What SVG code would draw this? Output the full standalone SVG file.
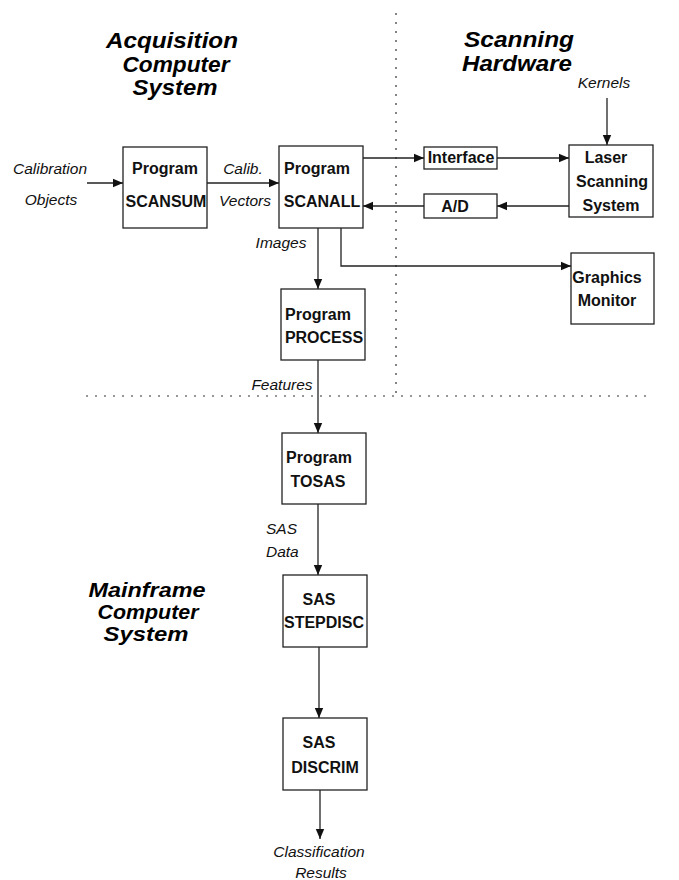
<svg xmlns="http://www.w3.org/2000/svg" width="679" height="880" viewBox="0 0 679 880">
<style>
  .box { fill: #fff; stroke: #222; stroke-width: 1.3; }
  .bt { font-family: "Liberation Sans", Arial, sans-serif; font-weight: bold; font-size: 16px; fill: #111; text-anchor: middle; }
  .lbl { font-family: "Liberation Sans", Arial, sans-serif; font-style: italic; font-size: 15.5px; fill: #111; text-anchor: middle; }
  .title { font-family: "Liberation Sans", Arial, sans-serif; font-style: italic; font-weight: bold; font-size: 22px; fill: #000; text-anchor: middle; }
  .mt { font-size: 21px; }
  .ln { fill: none; stroke: #222; stroke-width: 1.3; }
  .dot { fill: none; stroke: #333; stroke-width: 1.2; stroke-dasharray: 2 7; }
</style>
<defs>
  <marker id="ah" viewBox="0 0 10 10" refX="10" refY="5" markerWidth="10" markerHeight="10" markerUnits="userSpaceOnUse" orient="auto">
    <path d="M0,0.8 L10,5 L0,9.2 Z" fill="#111"/>
  </marker>
</defs>
<rect width="679" height="880" fill="#fff"/>

<g id="dividers">
  <line class="dot" x1="396" y1="13" x2="396" y2="395"/>
  <line class="dot" x1="86" y1="396" x2="646" y2="396"/>
</g>

<g id="titles">
  <text class="title" x="172" y="48" textLength="132" lengthAdjust="spacingAndGlyphs">Acquisition</text>
  <text class="title" x="176" y="72" textLength="107" lengthAdjust="spacingAndGlyphs">Computer</text>
  <text class="title" x="175" y="95" textLength="85" lengthAdjust="spacingAndGlyphs">System</text>
  <text class="title" x="519" y="47" textLength="110" lengthAdjust="spacingAndGlyphs">Scanning</text>
  <text class="title" x="517" y="71" textLength="110" lengthAdjust="spacingAndGlyphs">Hardware</text>
  <text class="title mt" x="147" y="597" textLength="117" lengthAdjust="spacingAndGlyphs">Mainframe</text>
  <text class="title mt" x="148" y="619" textLength="101" lengthAdjust="spacingAndGlyphs">Computer</text>
  <text class="title mt" x="146" y="641" textLength="85" lengthAdjust="spacingAndGlyphs">System</text>
</g>

<g id="connectors">
  <line class="ln" x1="87" y1="183" x2="123" y2="183" marker-end="url(#ah)"/>
  <line class="ln" x1="207" y1="183" x2="279" y2="183" marker-end="url(#ah)"/>
  <line class="ln" x1="363" y1="158" x2="424" y2="158" marker-end="url(#ah)"/>
  <line class="ln" x1="497" y1="158" x2="569" y2="158" marker-end="url(#ah)"/>
  <line class="ln" x1="569" y1="206" x2="497" y2="206" marker-end="url(#ah)"/>
  <line class="ln" x1="424" y1="206" x2="363" y2="206" marker-end="url(#ah)"/>
  <line class="ln" x1="607" y1="98" x2="607" y2="145" marker-end="url(#ah)"/>
  <line class="ln" x1="318" y1="228" x2="318" y2="289" marker-end="url(#ah)"/>
  <polyline class="ln" points="341,228 341,266 571,266" marker-end="url(#ah)"/>
  <line class="ln" x1="318" y1="360" x2="318" y2="433" marker-end="url(#ah)"/>
  <line class="ln" x1="318" y1="504" x2="318" y2="575" marker-end="url(#ah)"/>
  <line class="ln" x1="319" y1="647" x2="319" y2="718" marker-end="url(#ah)"/>
  <line class="ln" x1="320" y1="790" x2="320" y2="839" marker-end="url(#ah)"/>
</g>

<g id="labels">
  <text class="lbl" x="50" y="174">Calibration</text>
  <text class="lbl" x="51" y="205">Objects</text>
  <text class="lbl" x="243" y="174">Calib.</text>
  <text class="lbl" x="245" y="206">Vectors</text>
  <text class="lbl" x="604" y="88">Kernels</text>
  <text class="lbl" x="281" y="248">Images</text>
  <text class="lbl" x="282" y="390">Features</text>
  <text class="lbl" x="266" y="534" style="text-anchor:start">SAS</text>
  <text class="lbl" x="266" y="557" style="text-anchor:start">Data</text>
  <text class="lbl" x="319" y="857">Classification</text>
  <text class="lbl" x="321" y="878">Results</text>
</g>

<g id="scansum">
  <rect class="box" x="123" y="147" width="84" height="81"/>
  <text class="bt" x="165" y="174">Program</text>
  <text class="bt" x="166" y="207">SCANSUM</text>
</g>
<g id="scanall">
  <rect class="box" x="279" y="146" width="84" height="82"/>
  <text class="bt" x="317" y="174">Program</text>
  <text class="bt" x="322" y="207">SCANALL</text>
</g>
<g id="interface">
  <rect class="box" x="424" y="147" width="73" height="22"/>
  <text class="bt" x="461" y="163">Interface</text>
</g>
<g id="ad">
  <rect class="box" x="424" y="194" width="73" height="24"/>
  <text class="bt" x="455" y="212">A/D</text>
</g>
<g id="laser">
  <rect class="box" x="569" y="145" width="84" height="72"/>
  <text class="bt" x="606" y="163">Laser</text>
  <text class="bt" x="612" y="187">Scanning</text>
  <text class="bt" x="611" y="211">System</text>
</g>
<g id="graphics">
  <rect class="box" x="571" y="253" width="83" height="71"/>
  <text class="bt" x="607" y="283">Graphics</text>
  <text class="bt" x="607" y="306">Monitor</text>
</g>
<g id="process">
  <rect class="box" x="281" y="289" width="84" height="71"/>
  <text class="bt" x="318" y="320">Program</text>
  <text class="bt" x="324" y="343">PROCESS</text>
</g>
<g id="tosas">
  <rect class="box" x="282" y="433" width="84" height="71"/>
  <text class="bt" x="319" y="463">Program</text>
  <text class="bt" x="318" y="487">TOSAS</text>
</g>
<g id="stepdisc">
  <rect class="box" x="283" y="575" width="84" height="72"/>
  <text class="bt" x="319" y="605">SAS</text>
  <text class="bt" x="324" y="628">STEPDISC</text>
</g>
<g id="discrim">
  <rect class="box" x="283" y="718" width="84" height="72"/>
  <text class="bt" x="319" y="748">SAS</text>
  <text class="bt" x="325" y="773">DISCRIM</text>
</g>
</svg>
